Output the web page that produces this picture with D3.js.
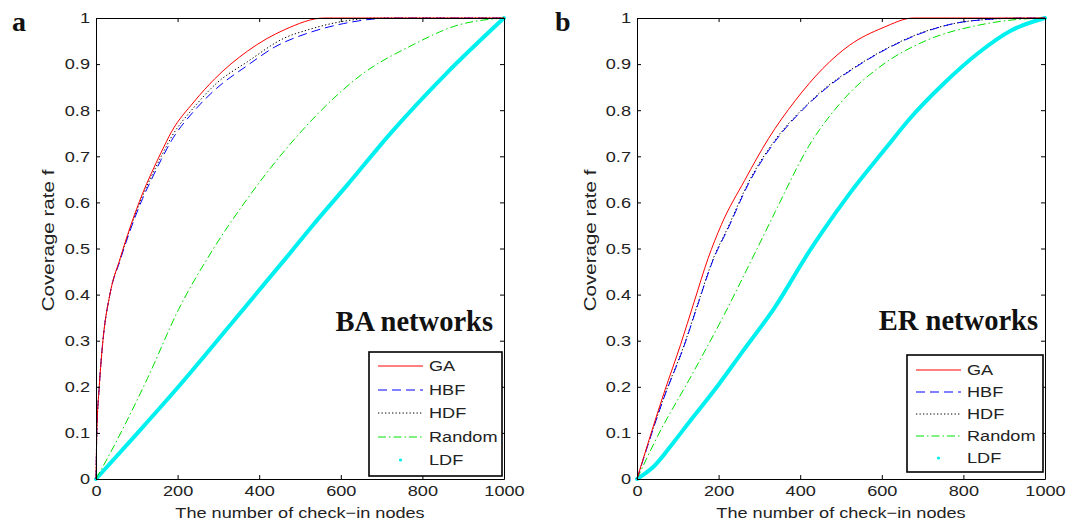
<!DOCTYPE html>
<html><head><meta charset="utf-8">
<script src="https://cdn.jsdelivr.net/npm/d3@7"></script>
<style>body{margin:0;background:#fff}svg{display:block}</style>
</head><body>
<svg id="chart" width="1071" height="523"></svg>
<script>
// ---------- data ----------
const xTicks = [0, 200, 400, 600, 800, 1000];
const yTicks = [0, 0.1, 0.2, 0.3, 0.4, 0.5, 0.6, 0.7, 0.8, 0.9, 1];
const seriesNames = ["GA", "HBF", "HDF", "Random", "LDF"];
const panelLetters = ["a", "b"];
const networkNames = ["BA networks", "ER networks"];
const xLabel = "The number of check\u2212in nodes";
const yLabel = "Coverage rate f";

// Panel a: BA networks
const baGA_n  = [0, 2, 8, 17, 34, 59, 84, 114, 135, 160, 185, 240, 291, 371, 463, 560, 1000];
const baGA_f  = [0, 0.10, 0.20, 0.30, 0.40, 0.478, 0.547, 0.619, 0.662, 0.709, 0.753, 0.818, 0.868, 0.928, 0.975, 1.0, 1.0];
const baHBF_n = [0, 2, 8, 17, 34, 59, 84, 114, 135, 160, 185, 240, 295, 371, 438, 522, 607, 730, 1000];
const baHBF_f = [0, 0.10, 0.20, 0.30, 0.40, 0.474, 0.540, 0.608, 0.648, 0.693, 0.734, 0.798, 0.847, 0.897, 0.937, 0.968, 0.988, 1.0, 1.0];
const baHDF_n = [0, 2, 8, 17, 34, 59, 84, 114, 135, 160, 185, 240, 295, 371, 463, 522, 607, 690, 1000];
const baHDF_f = [0, 0.10, 0.20, 0.30, 0.40, 0.476, 0.544, 0.614, 0.655, 0.700, 0.742, 0.806, 0.858, 0.905, 0.957, 0.975, 0.993, 1.0, 1.0];
const baRand_n = [0, 17, 126, 202, 286, 371, 463, 548, 649, 775, 885, 1000];
const baRand_f = [0, 0.027, 0.218, 0.367, 0.497, 0.608, 0.713, 0.796, 0.876, 0.941, 0.984, 1.0];
const baLDF_n = [0, 100, 202, 329, 470, 531, 615, 724, 859, 1000];
const baLDF_f = [0, 0.098, 0.200, 0.334, 0.484, 0.550, 0.637, 0.752, 0.880, 1.0];

// Panel b: ER networks
const erGA_n  = [0, 66, 107, 140, 174, 207, 264, 322, 388, 455, 521, 603, 678, 1000];
const erGA_f  = [0, 0.186, 0.292, 0.384, 0.478, 0.552, 0.648, 0.738, 0.821, 0.890, 0.941, 0.979, 1.0, 1.0];
const erHBF_n = [0, 66, 116, 149, 186, 223, 273, 339, 405, 463, 537, 612, 694, 777, 860, 950, 1000];
const erHBF_f = [0, 0.176, 0.290, 0.378, 0.474, 0.543, 0.640, 0.733, 0.800, 0.847, 0.894, 0.933, 0.966, 0.988, 0.997, 1.0, 1.0];
const erHDF_n = [0, 66, 116, 149, 186, 223, 273, 339, 405, 463, 537, 612, 694, 777, 860, 950, 1000];
const erHDF_f = [0, 0.178, 0.292, 0.380, 0.476, 0.546, 0.643, 0.736, 0.802, 0.849, 0.895, 0.934, 0.967, 0.988, 0.997, 1.0, 1.0];
const erRand_n = [0, 50, 132, 207, 289, 339, 421, 504, 595, 711, 835, 934, 1000];
const erRand_f = [0, 0.092, 0.222, 0.345, 0.490, 0.580, 0.722, 0.821, 0.894, 0.952, 0.984, 0.997, 1.0];
const erLDF_n = [0, 41, 91, 132, 190, 256, 339, 421, 455, 521, 612, 669, 752, 835, 917, 1000];
const erLDF_f = [0, 0.027, 0.081, 0.128, 0.193, 0.273, 0.374, 0.492, 0.537, 0.619, 0.720, 0.782, 0.858, 0.923, 0.973, 1.0];

// ---------- styling / layout ----------
const styles = {
  GA:     {color: "#ff0000", width: 1,   dash: null},
  HBF:    {color: "#0000ff", width: 1,   dash: "9,5"},
  HDF:    {color: "#000000", width: 1,   dash: "1.3,2.2"},
  Random: {color: "#00e000", width: 1,   dash: "8,3,1.5,3"},
  LDF:    {color: "#00f0f0", width: 4,   dash: null}
};
const FONT = "'Liberation Sans', Arial, Helvetica, sans-serif";
const SERIF = "'Liberation Serif', 'Times New Roman', serif";
const FS = 15, SX = 1.21, TXT = "#222";

const panels = [
  {left: 96, right: 504, top: 18, bottom: 479, letter: panelLetters[0], letterX: 12, name: networkNames[0],
   nameRight: 493, nameBase: 331, ylabX: 48,
   legend: {x: 369, y: 352, w: 133, h: 124, rows: 23.5, first: 14},
   series: [[baGA_n, baGA_f], [baHBF_n, baHBF_f], [baHDF_n, baHDF_f], [baRand_n, baRand_f], [baLDF_n, baLDF_f]]},
  {left: 637, right: 1045, top: 18, bottom: 479, letter: panelLetters[1], letterX: 555, name: networkNames[1],
   nameRight: 1038, nameBase: 330, ylabX: 590,
   legend: {x: 907, y: 355, w: 136, h: 117, rows: 22, first: 15},
   series: [[erGA_n, erGA_f], [erHBF_n, erHBF_f], [erHDF_n, erHDF_f], [erRand_n, erRand_f], [erLDF_n, erLDF_f]]}
];

const svg = d3.select("#chart");

panels.forEach(p => {
  const x = d3.scaleLinear().domain([0, 1000]).range([p.left, p.right]);
  const y = d3.scaleLinear().domain([0, 1]).range([p.bottom, p.top]);
  const g = svg.append("g");

  // curves (LDF under others)
  const order = [4, 3, 2, 1, 0];
  order.forEach(i => {
    const name = seriesNames[i];
    const st = styles[name];
    const [ns, fs] = p.series[i];
    const pts = ns.map((n, k) => [n, fs[k]]);
    const line = d3.line().x(d => x(d[0])).y(d => y(d[1])).curve(d3.curveMonotoneX);
    g.append("path").attr("d", line(pts)).attr("fill", "none")
      .attr("stroke", st.color).attr("stroke-width", st.width)
      .attr("stroke-dasharray", st.dash).attr("stroke-linejoin", "round").attr("stroke-linecap", name === "LDF" ? "round" : "butt");
  });

  // axes
  const ax = (gen, tx, ty, labels) => {
    const a = g.append("g").attr("transform", `translate(${tx},${ty})`).call(gen);
    a.selectAll("path.domain").attr("stroke", "#000").attr("stroke-width", 1);
    a.selectAll(".tick line").attr("stroke", "#000").attr("stroke-width", 1);
    a.selectAll("text").attr("font-family", FONT).attr("font-size", FS).attr("fill", TXT);
    if (!labels) a.selectAll("text").remove();
    return a;
  };
  const bottom = ax(d3.axisBottom(x).tickValues(xTicks).tickSizeInner(-4).tickSizeOuter(0).tickPadding(6).tickFormat(d3.format("d")), 0, p.bottom, true);
  bottom.selectAll("text").attr("transform", `scale(${SX},1)`);
  ax(d3.axisTop(x).tickValues(xTicks).tickSizeInner(-4).tickSizeOuter(0), 0, p.top, false);
  const left = ax(d3.axisLeft(y).tickValues(yTicks).tickSizeInner(-4).tickSizeOuter(0).tickPadding(6).tickFormat(d => d3.format("~g")(d)), p.left, 0, true);
  left.selectAll("text").attr("x", -6 / SX).attr("transform", `scale(${SX},1)`);
  ax(d3.axisRight(y).tickValues(yTicks).tickSizeInner(-4).tickSizeOuter(0), p.right, 0, false);
  g.selectAll(".domain").attr("fill", "none");

  // axis labels
  g.append("text").attr("font-family", FONT).attr("font-size", FS).attr("fill", TXT)
    .attr("text-anchor", "middle")
    .attr("transform", `translate(${(p.left + p.right) / 2},518) scale(${SX},1)`)
    .text(xLabel);
  g.append("text").attr("font-family", FONT).attr("font-size", FS + 2).attr("fill", TXT)
    .attr("text-anchor", "middle")
    .attr("transform", `translate(${p.ylabX + 6},${(p.top + p.bottom) / 2 - 8}) rotate(-90) scale(${SX},1)`)
    .text(yLabel);

  // panel letter
  g.append("text").attr("font-family", SERIF).attr("font-weight", "bold").attr("font-size", 28)
    .attr("fill", "#111").attr("x", p.letterX).attr("y", 31).text(p.letter);

  // network name
  g.append("text").attr("font-family", SERIF).attr("font-weight", "bold").attr("font-size", 28.5)
    .attr("fill", "#111").attr("text-anchor", "end").attr("x", p.nameRight).attr("y", p.nameBase).text(p.name);

  // legend
  const L = p.legend;
  const lg = g.append("g");
  lg.append("rect").attr("x", L.x).attr("y", L.y).attr("width", L.w).attr("height", L.h)
    .attr("fill", "#fff").attr("stroke", "#000").attr("stroke-width", 1.6);
  seriesNames.forEach((name, i) => {
    const st = styles[name];
    const cy = Math.round(L.y + L.first + i * L.rows);
    if (name === "LDF") {
      lg.append("circle").attr("cx", L.x + 31.5).attr("cy", cy).attr("r", 1.6).attr("fill", st.color);
    } else {
      lg.append("line").attr("x1", L.x + 9).attr("x2", L.x + 54).attr("y1", cy).attr("y2", cy)
        .attr("stroke", st.color).attr("stroke-width", 1).attr("stroke-dasharray", st.dash);
    }
    lg.append("text").attr("font-family", FONT).attr("font-size", FS).attr("fill", TXT)
      .attr("dy", "0.36em")
      .attr("transform", `translate(${L.x + 60},${cy}) scale(${SX},1)`).text(name);
  });
});
</script>
</body></html>
